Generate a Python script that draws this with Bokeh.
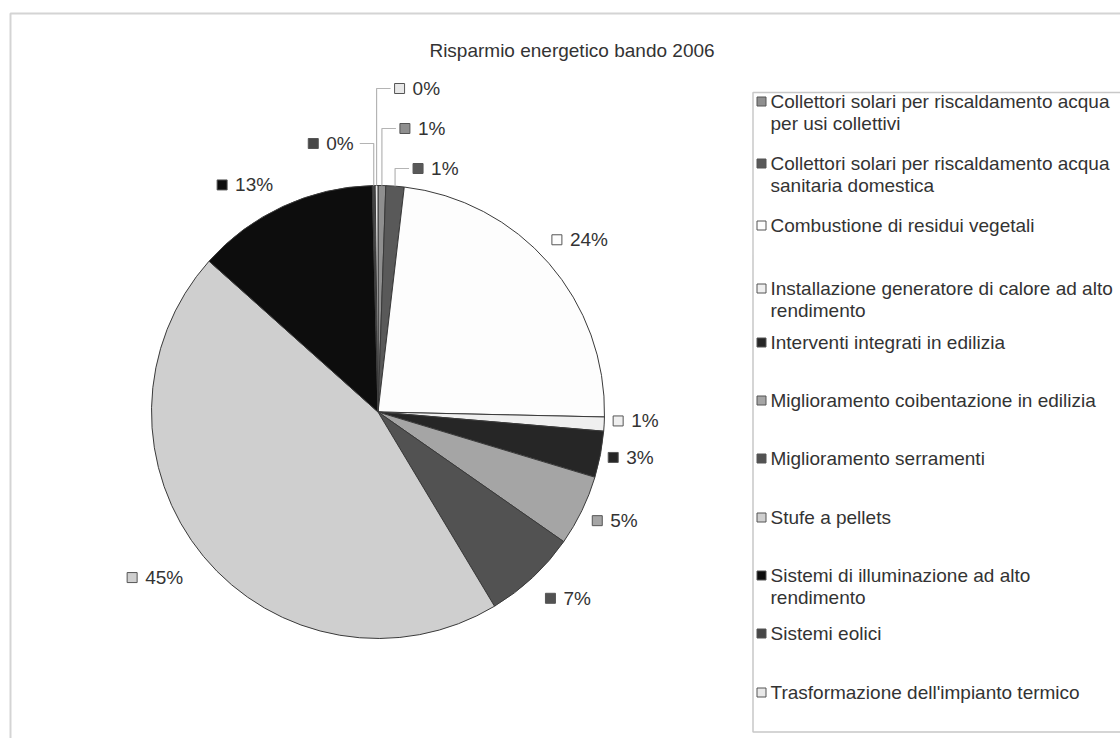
import math
from bokeh.plotting import figure
from bokeh.models import Range1d, ColumnDataSource
from bokeh.core.properties import value
from bokeh.embed import file_html
from bokeh.resources import INLINE

# ---------------- data ----------------
title = "Risparmio energetico bando 2006"
categories = [
    "Collettori solari per riscaldamento acqua\nper usi collettivi",
    "Collettori solari per riscaldamento acqua\nsanitaria domestica",
    "Combustione di residui vegetali",
    "Installazione generatore di calore ad alto\nrendimento",
    "Interventi integrati in edilizia",
    "Miglioramento coibentazione in edilizia",
    "Miglioramento serramenti",
    "Stufe a pellets",
    "Sistemi di illuminazione ad alto\nrendimento",
    "Sistemi eolici",
    "Trasformazione dell'impianto termico",
]
shares = [0.55, 1.3, 23.5, 1.0, 3.3, 5.05, 6.7, 45.2, 13.0, 0.2, 0.2]
colors = ["#8f8f8f", "#595959", "#fdfdfd", "#efefef", "#262626", "#a5a5a5",
          "#525252", "#cfcfcf", "#0d0d0d", "#474747", "#e8e8e8"]

# ---------------- style / layout ----------------
W, H = 1120, 738
FONT = value("Liberation Sans")
FS = 19
TXT = "#333333"
CX, CY, R = 377.5, 411.5, 226.5          # pie centre / radius in page pixels
LABEL_R = R + 16
leader_label_y = {0: 128, 1: 168, 9: 143, 10: 88}   # small slices get leader lines
leader_side = {0: 1, 1: 1, 9: -1, 10: 1}
label_nudge = {2: (-9, -6), 3: (-7, -4), 4: (-8, -7), 5: (-4, -4),
               6: (2, 2), 7: (-8, 4), 8: (-3, 0)}
legend_row_y = [101, 163, 225, 288, 342, 400, 458, 517, 575, 633, 692]
LEG_LINE = 22
BOX_HALF_H = 7


def X(px):
    return px


def Y(py):
    return H - py


p = figure(width=W, height=H, x_range=Range1d(0, W), y_range=Range1d(0, H),
           output_backend="svg", toolbar_location=None, min_border=0)
p.axis.visible = False
p.grid.visible = False
p.outline_line_color = None
p.background_fill_color = "white"

# outer chart frame and legend frame
p.quad(left=[X(10)], right=[X(1160)], top=[Y(13)], bottom=[Y(780)],
       fill_color=None, line_color="#d4d4d4", line_width=2)
p.quad(left=[X(752.5)], right=[X(1160)], top=[Y(92)], bottom=[Y(731.5)],
       fill_color=None, line_color="#c8c8c8", line_width=1.5)

# title
p.text(x=[X(571.5)], y=[Y(50)], text=[title], text_font=FONT,
       text_font_size=f"{FS}px", text_color=TXT, text_align="center",
       text_baseline="middle")

# ---------------- pie ----------------
total = sum(shares)
cum = 0.0
starts, ends, mids = [], [], []
for v in shares:
    a0 = cum / total * 360.0
    cum += v
    a1 = cum / total * 360.0
    starts.append(math.pi / 2 - math.radians(a0))
    ends.append(math.pi / 2 - math.radians(a1))
    mids.append((a0 + a1) / 2)

src = ColumnDataSource(dict(x=[X(CX)] * len(shares), y=[Y(CY)] * len(shares),
                            start=starts, end=ends, color=colors))
p.wedge(x="x", y="y", radius=R, start_angle="start", end_angle="end",
        direction="clock", fill_color="color", line_color="#3a3a3a",
        line_width=1, source=src)


def text_width(s):
    w = 0.0
    for ch in s:
        w += 0.889 if ch == "%" else 0.556
    return w * FS


SW = 10   # swatch size
GAP = 8

lab_x, lab_y, lab_t = [], [], []
sw_x, sw_y, sw_c = [], [], []
lead_xs, lead_ys = [], []
for i, v in enumerate(shares):
    txt = f"{round(v / total * 100):.0f}%"
    tw = text_width(txt)
    box_w = SW + GAP + tw
    th = math.radians(mids[i])
    s, c = math.sin(th), math.cos(th)
    if i in leader_label_y:
        ex = CX + R * s
        ey = CY - R * c
        ly = leader_label_y[i]
        side = leader_side[i]
        hx = ex + side * 14
        lead_xs.append([X(ex), X(ex), X(hx)])
        lead_ys.append([Y(ey), Y(ly), Y(ly)])
        left = hx + 4 if side > 0 else hx - 6 - box_w
        cy = ly
    else:
        ax = CX + LABEL_R * s
        ay = CY - LABEL_R * c
        if s > 0.1:
            left = ax
        elif s < -0.1:
            left = ax - box_w
        else:
            left = ax - box_w / 2
        if c > 0.1:
            cy = ay - BOX_HALF_H
        elif c < -0.1:
            cy = ay + BOX_HALF_H
        else:
            cy = ay
        ndx, ndy = label_nudge.get(i, (0, 0))
        left += ndx
        cy += ndy
    sw_x.append(X(left + SW / 2))
    sw_y.append(Y(cy))
    sw_c.append(colors[i])
    lab_x.append(X(left + SW + GAP))
    lab_y.append(Y(cy))
    lab_t.append(txt)

p.multi_line(xs=lead_xs, ys=lead_ys, line_color="#b4b4b4", line_width=1.2)
p.rect(x=sw_x, y=sw_y, width=SW, height=SW, fill_color=sw_c,
       line_color="#555555", line_width=1)
p.text(x=lab_x, y=lab_y, text=lab_t, text_font=FONT, text_font_size=f"{FS}px",
       text_color=TXT, text_align="left", text_baseline="middle")

# ---------------- legend ----------------
lg_sx, lg_sy, lg_tx, lg_ty, lg_t = [], [], [], [], []
for i, name in enumerate(categories):
    y0 = legend_row_y[i]
    lg_sx.append(X(761))
    lg_sy.append(Y(y0))
    for k, line in enumerate(name.split("\n")):
        lg_tx.append(X(770))
        lg_ty.append(Y(y0 + k * LEG_LINE))
        lg_t.append(line)
p.rect(x=lg_sx, y=lg_sy, width=9, height=9, fill_color=colors,
       line_color="#555555", line_width=1)
p.text(x=lg_tx, y=lg_ty, text=lg_t, text_font=FONT, text_font_size=f"{FS}px",
       text_color=TXT, text_align="left", text_baseline="middle")

open("out.html", "w").write(file_html(p, INLINE))
